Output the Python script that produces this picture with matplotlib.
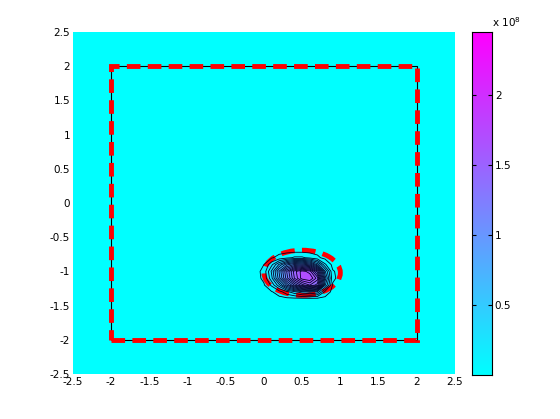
import matplotlib
matplotlib.use('Agg')
import matplotlib.pyplot as plt
import numpy as np
from matplotlib.patches import Ellipse, Rectangle

#######################################################################
#                                Data                                 #
#######################################################################
# Blob of the field (values in units of 1e8)
blob_x = [-0.1, 0.0, 0.1, 0.2, 0.3, 0.4, 0.5, 0.6, 0.7, 0.8, 0.9, 1.0]
blob_y = [-1.4, -1.3, -1.2, -1.1, -1.0, -0.9, -0.8, -0.7, -0.6]
blob_vals = [
    [0, 0,    0,    0,    0,    0,    0,    0,    0,    0,    0,    0],
    [0, 0,    0.02, 0.08, 0.2,  0.3,  0.4,  0.45, 0.4,  0.1,  0,    0],
    [0, 0.02, 0.15, 0.4,  0.75, 1.05, 1.3,  1.45, 1.3,  0.45, 0.02, 0],
    [0, 0.05, 0.3,  0.7,  1.1,  1.45, 1.7,  1.75, 1.5,  0.6,  0.05, 0],
    [0, 0.06, 0.35, 0.75, 1.15, 1.5,  1.7,  1.6,  1.2,  0.45, 0.04, 0],
    [0, 0.03, 0.2,  0.45, 0.7,  0.85, 0.9,  0.8,  0.5,  0.15, 0,    0],
    [0, 0,    0.02, 0.06, 0.1,  0.15, 0.15, 0.1,  0.05, 0,    0,    0],
    [0, 0,    0,    0,    0,    0,    0,    0,    0,    0,    0,    0],
    [0, 0,    0,    0,    0,    0,    0,    0,    0,    0,    0,    0],
]
cmax = 2.45
cbar_ticks = [0.5, 1, 1.5, 2]
ax_ticks = [-2.5, -2, -1.5, -1, -0.5, 0, 0.5, 1, 1.5, 2, 2.5]

# Region outlines (red dashed)
box = (-2, -2, 4, 4)            # x0, y0, width, height
ell = (0.5, -1.02, 1.0, 0.66)   # cx, cy, width, height

#######################################################################
#                                Plot                                 #
#######################################################################
fig = plt.figure(figsize=(5.6, 4.19), dpi=100)
ax = fig.add_axes([0.130, 0.1074, 0.6825, 0.8162])
cax = fig.add_axes([0.843, 0.105, 0.0357, 0.8186])

cmap = plt.get_cmap('cool')
ax.set_facecolor(cmap(0.0))

X, Y = np.meshgrid(blob_x, blob_y)
Z = np.array(blob_vals)
levels = np.linspace(0.03, 1.75, 18)
cf = ax.contourf(X, Y, Z, levels=levels, cmap=cmap, vmin=0, vmax=cmax)
ax.contour(X, Y, Z, levels=levels, colors='#000020', linewidths=0.6)

dash = (0, (2.8, 1.5))
ax.add_patch(Rectangle(box[:2], box[2], box[3], fill=False, ec='k', lw=0.8))
ax.add_patch(Rectangle(box[:2], box[2], box[3], fill=False, ec='red',
                       lw=3.5, ls=dash))
ax.add_patch(Ellipse(ell[:2], ell[2], ell[3], fill=False, ec='red',
                     lw=3.5, ls=dash))

ax.set_xlim(-2.5, 2.5)
ax.set_ylim(-2.5, 2.5)
ax.set_xticks(ax_ticks)
ax.set_yticks(ax_ticks)
ax.set_xticklabels([f'{t:g}' for t in ax_ticks])
ax.set_yticklabels([f'{t:g}' for t in ax_ticks])
ax.tick_params(labelsize=7.5, length=0, pad=2)
for s in ax.spines.values():
    s.set_visible(False)

# Colorbar
grad = np.linspace(0, cmax, 256).reshape(-1, 1)
cax.imshow(grad, aspect='auto', cmap=cmap, origin='lower',
           extent=[0, 1, 0, cmax])
cax.set_xticks([])
cax.set_yticks(cbar_ticks)
cax.set_yticklabels([f'{t:g}' for t in cbar_ticks])
cax.yaxis.tick_right()
cax.tick_params(axis='y', direction='in', left=True, right=True,
                length=3, labelsize=7.5, pad=2)
for s in cax.spines.values():
    s.set_linewidth(0.8)
cax.text(1.0, 1.01, r'x 10$^{8}$', transform=cax.transAxes,
         fontsize=7.5, ha='left', va='bottom')

fig.savefig('out.png', dpi=100)
